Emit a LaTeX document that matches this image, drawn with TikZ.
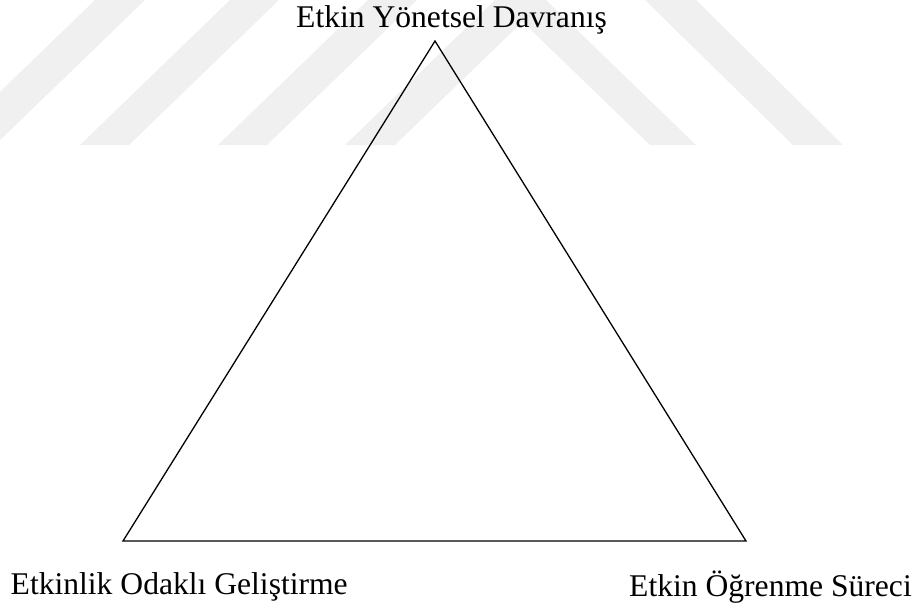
\documentclass[tikz,border=0pt]{standalone}
\usepackage{fontspec}
\setmainfont{Liberation Serif}
\begin{document}
\begin{tikzpicture}[x=1pt,y=-1pt,
  band/.style={fill=black!6},
  edge/.style={draw=black,line width=1.3pt,line join=miter},
  label/.style={anchor=base west,inner sep=0pt,font=\fontsize{31.6}{36}\selectfont}]
\useasboundingbox (0,0) rectangle (918,606);

% faint diagonal bands in the background
\begin{scope}
  \clip (0,0) rectangle (918,606);
  \fill[band] (95,0) -- (145,0) -- (-5,145) -- (-55,145) -- cycle;
  \fill[band] (230,0) -- (279,0) -- (129,145) -- (80,145) -- cycle;
  \fill[band] (368,0) -- (417,0) -- (267,145) -- (218,145) -- cycle;
  \fill[band] (495,0) -- (545,0) -- (395,145) -- (345,145) -- cycle;
  \fill[band] (500,0) -- (546,0) -- (696,145) -- (650,145) -- cycle;
  \fill[band] (645,0) -- (696,0) -- (843,145) -- (793,145) -- cycle;
\end{scope}

% triangle corners
\coordinate (apex) at (435,41);
\coordinate (bl) at (123,541);
\coordinate (br) at (746,541);
\draw[edge] (apex) -- (bl) -- (br) -- cycle;

% corner labels
\node[label] (ltop) at (296,27) {Etkin Yönetsel Davranış};
\node[label] (lleft) at (10.5,594) {Etkinlik Odaklı Geliştirme};
\node[label] (lright) at (629,596.5) {Etkin Öğrenme Süreci};
\end{tikzpicture}
\end{document}
